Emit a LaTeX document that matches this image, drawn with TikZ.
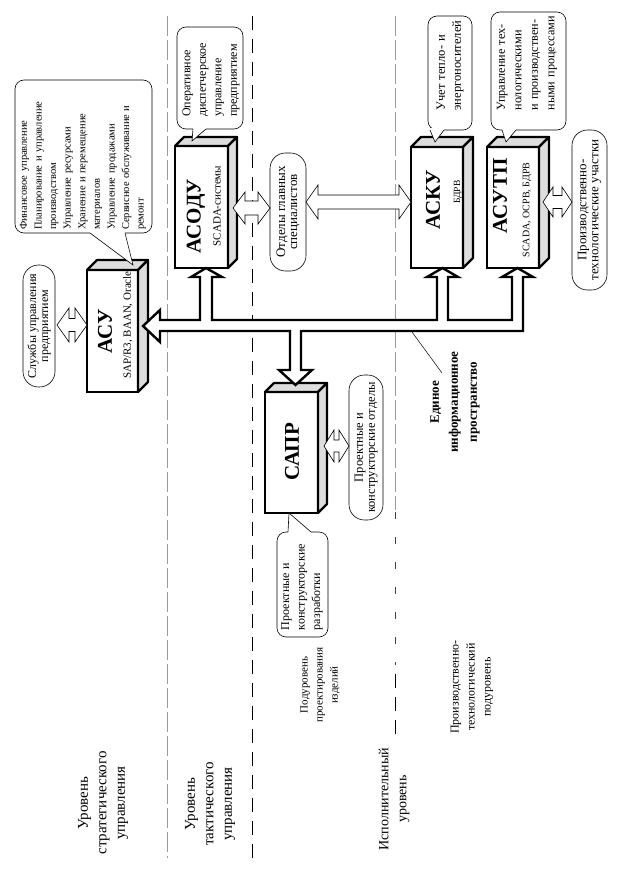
\documentclass[tikz,border=0pt]{standalone}
\usepackage{fontspec}
\setmainfont{Liberation Serif}
\usetikzlibrary{calc}
\definecolor{facegray}{HTML}{DDDDDD}
\definecolor{sepgray}{HTML}{9A9A9A}
\newcommand\fsz[2]{\fontsize{#1}{#2}\selectfont}
\newcommand\jline[2]{\makebox[#1][s]{#2}}
\newcommand\threed[2]{%
  \path[face] (#1.north west) -- ++(#2,-#2) -- ($(#1.north east)+(#2,-#2)$) -- (#1.north east) -- cycle;
  \path[face] (#1.north east) -- ++(#2,-#2) -- ($(#1.south east)+(#2,-#2)$) -- (#1.south east) -- cycle;}
\begin{document}
\begin{tikzpicture}[x=1pt,y=-1pt,
  front/.style={draw,line width=2.2pt,fill=white,inner sep=0pt,outer sep=0pt},
  face/.style={draw,line width=2.2pt,fill=facegray,line join=round},
  cbox/.style={draw,line width=0.6pt,rounded corners=9pt,fill=white,inner sep=0pt,outer sep=0pt},
  pill/.style={draw,line width=0.6pt,rounded corners=15.5pt,fill=white,inner sep=0pt,outer sep=0pt,rotate=90,align=center},
  ptr/.style={draw,line width=0.6pt,fill=white},
  darrow/.style={draw,line width=0.6pt,fill=white,line join=miter},
  bus/.style={draw,line width=2.4pt,fill=white,line join=miter},
  rtext/.style={rotate=90,inner sep=0pt,align=left},
  ctext/.style={rotate=90,inner sep=0pt,align=center},
  ttl/.style={ctext,font=\fsz{21}{24}\bfseries},
  sub/.style={ctext,font=\fsz{11}{13}},
  lvl/.style={ctext,font=\fsz{15}{18.5}}
]
\useasboundingbox (0,0) rectangle (624,874);

% level separators
\draw[sepgray,line width=1pt,dash pattern=on 20pt off 4pt] (167,16) -- (167,858);
\draw[black,line width=0.7pt,dash pattern=on 14pt off 9pt] (252,16) -- (252,858);
\draw[sepgray,line width=1pt,dash pattern=on 20pt off 4pt] (395,16) -- (395,510);
\draw[black!75,line width=0.8pt,dash pattern=on 7pt off 18pt] (395,512) -- (395,665);
\draw[black,line width=0.7pt,dash pattern=on 14pt off 9pt] (395,674) -- (395,740);

% level labels
\node[lvl] (l1) at (103,803) {Уровень\\стратегического\\управления};
\node[lvl] (l2) at (210,804) {Уровень\\тактического\\управления};
\node[ctext,font=\fsz{11}{15}] (l3) at (320,685) {Подуровень\\проектирования\\изделий};
\node[ctext,font=\fsz{14}{18}] (l4) at (394,799) {Исполнительный\\уровень};
\node[ctext,font=\fsz{12}{16}] (l5) at (472,687) {Производственно-\\технологический\\подуровень};

% boxes
\node[front,minimum width=51pt,minimum height=122pt] (acu) at (112.5,331) {};
\threed{acu}{10}
\node[front,minimum width=53pt,minimum height=122pt] (asodu) at (201.5,207) {};
\threed{asodu}{9}
\node[front,minimum width=52pt,minimum height=121pt] (asku) at (437,207.5) {};
\threed{asku}{10}
\node[front,minimum width=52pt,minimum height=121pt] (asutp) at (513,207.5) {};
\threed{asutp}{10}
\node[front,minimum width=53pt,minimum height=121pt] (sapr) at (291.5,452.5) {};
\threed{sapr}{9}

\node[ttl] (acu-t) at (105,331) {АСУ};
\node[sub] (acu-s) at (128,325) {SAP/R3, BAAN, Oracle};
\node[ttl] (asodu-t) at (196,216) {АСОДУ};
\node[sub] (asodu-s) at (217,206) {SCADA-системы};
\node[ttl] (asku-t) at (433,200) {АСКУ};
\node[sub,font=\fsz{9.5}{11}] (asku-s) at (458,192) {БДРВ};
\node[ttl] (asutp-t) at (500,196) {АСУТП};
\node[sub,font=\fsz{10}{12}] (asutp-s) at (527,210) {SCADA, ОСРВ, БДРВ};
\node[ttl] (sapr-t) at (292,452) {САПР};

% information bus
\path[bus] (143,326) -- (160,310) -- (160,320) -- (200,320) -- (200,277) -- (191,277) -- (206,268)
  -- (222,277) -- (212,277) -- (212,320) -- (437,320) -- (437,277) -- (427,277) -- (442.5,268)
  -- (458,277) -- (448,277) -- (448,320) -- (512,320) -- (512,277) -- (502,277) -- (517.5,268)
  -- (533,277) -- (523,277) -- (523,331) -- (301,331) -- (301,370) -- (312,370) -- (295.5,385)
  -- (279,370) -- (290,370) -- (290,331) -- (160,331) -- (160,342) -- cycle;
\node[ctext,font=\fsz{13}{19}\bfseries] (eip) at (455,402) {Единое\\информационное\\пространство};
\coordinate (busp) at (412,332);
\coordinate (eipp) at (442,373);
\draw[line width=0.5pt] (busp) -- (eipp);

% pills
\node[pill,minimum width=122pt,minimum height=32pt] (slu) at (39,326) {\fsz{12}{16}Службы управления\\\fsz{12}{16}предприятием};
\node[pill,minimum width=118pt,minimum height=36pt] (otd) at (288,212) {\fsz{13}{15}Отделы главных\\\fsz{13}{15}специалистов};
\node[pill,minimum width=145pt,minimum height=34pt] (pko) at (366,447.5) {\fsz{12.5}{16}Проектные и\\\fsz{12.5}{16}конструкторские отделы};
\node[pill,minimum width=160pt,minimum height=35pt] (pru) at (589.5,210) {\fsz{13}{16.5}Производственно-\\\fsz{13}{16.5}технологические участки};

% double arrows
\path[darrow] (57,325) -- (69,308) -- (69,318.5) -- (75,318.5) -- (75,308) -- (87,325) -- (75,342) -- (75,331.5) -- (69,331.5) -- (69,342) -- cycle;
\path[darrow] (233,208) -- (245,192) -- (245,201) -- (258,201) -- (258,192) -- (270,208) -- (258,224) -- (258,215) -- (245,215) -- (245,224) -- cycle;
\path[darrow] (306,202) -- (318,185) -- (318,195) -- (399,195) -- (399,185) -- (411,202) -- (399,219) -- (399,209) -- (318,209) -- (318,219) -- cycle;
\path[darrow] (543,202) -- (553,187) -- (553,195.5) -- (562,195.5) -- (562,187) -- (572,202) -- (562,217) -- (562,208.5) -- (553,208.5) -- (553,217) -- cycle;
\path[darrow] (324,446) -- (334,430) -- (334,440) -- (339,440) -- (339,430) -- (349,446) -- (339,462) -- (339,452) -- (334,452) -- (334,462) -- cycle;

% callout 1 (ASU)
\node[cbox,minimum width=137pt,minimum height=153pt] (c1) at (83.5,156.5) {};
\fill[white] (90.4,231.5) rectangle (124.6,234.5);
\path[ptr] (90,233) -- ($(acu.north east)+(-5,-5)$) -- (125,233);
\node[rtext,text width=122pt,font=\fsz{10.5}{14.6}] (c1t) at (83,169) {Финансовое управление\\\jline{122pt}{Планирование и управление}\\производством\\Управление ресурсами\\\jline{122pt}{Хранение и перемещение}\\материалов\\Управление продажами\\\jline{122pt}{Сервисное обслуживание и}\\ремонт};

% callout 2 (ASODU)
\node[cbox,minimum width=66pt,minimum height=102pt] (c2) at (210,78) {};
\fill[white] (193.4,127.5) rectangle (205.6,130.5);
\path[ptr] (193,129) -- ($(asodu.north west)+(17,-5)$) -- (206,129);
\node[rtext,text width=82pt,font=\fsz{12}{15.5}] (c2t) at (211,76) {Оперативное\\диспетчерское\\управление\\предприятием};

% callout 3 (ASKU)
\node[cbox,minimum width=44pt,minimum height=114pt] (c3) at (450,73) {};
\fill[white] (430.4,128.5) rectangle (443.6,131.5);
\path[ptr] (430,130) -- ($(asku.north west)+(24,-5)$) -- (444,130);
\node[rtext,text width=93pt,font=\fsz{12.5}{16}] (c3t) at (450,64) {Учет тепло- и\\энергоносителей};

% callout 4 (ASUTP)
\node[cbox,minimum width=75pt,minimum height=118pt] (c4) at (528.5,71) {};
\fill[white] (502.4,128.5) rectangle (515.6,131.5);
\path[ptr] (502,130) -- ($(asutp.north west)+(19,-5)$) -- (516,130);
\node[rtext,text width=95pt,font=\fsz{12.2}{16.5}] (c4t) at (527,63) {\jline{95pt}{Управление тех-}\\нологическими\\\jline{95pt}{и производствен-}\\\jline{95pt}{ными процессами}};

% callout 5 (SAPR)
\node[cbox,minimum width=51pt,minimum height=105pt] (c5) at (302.5,584.5) {};
\fill[white] (288.4,530.5) rectangle (310.6,533.5);
\path[ptr] (288,532) -- ($(sapr.south west)+(24,0)$) -- (311,532);
\node[rtext,text width=88pt,font=\fsz{12}{15.5}] (c5t) at (302,586) {Проектные и\\конструкторские\\разработки};

\end{tikzpicture}
\end{document}
